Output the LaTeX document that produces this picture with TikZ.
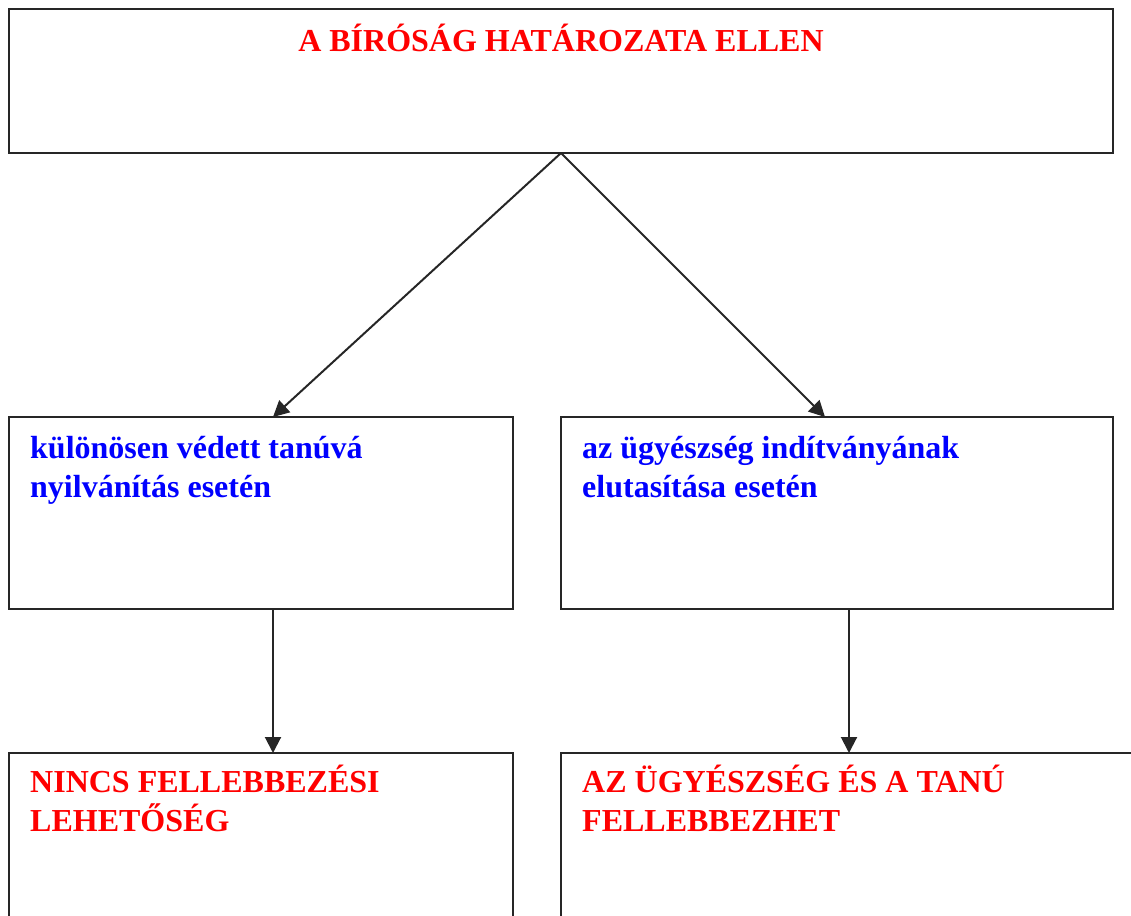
\documentclass[tikz,border=0pt]{standalone}
\usepackage{fontspec}
\setmainfont{Liberation Serif}
\usetikzlibrary{arrows.meta,calc}
\definecolor{edge}{HTML}{262626}
\begin{document}
\begin{tikzpicture}[x=1pt,y=-1pt,
  box/.style={draw=edge,line width=2.2pt,rectangle,anchor=north west,inner sep=0pt,outer sep=0pt},
  label/.style={anchor=base west,inner sep=0pt,align=left,font=\fontsize{32}{39.5}\selectfont\bfseries},
  redtxt/.style={label,text=red},
  bluetxt/.style={label,text=blue},
  arr/.style={draw=edge,line width=2pt,-{Triangle[length=16pt,width=16pt]}}]
\useasboundingbox (0,0) rectangle (1131,915);
\clip (0,0) rectangle (1131,915);
% boxes
\node[box,minimum width=1104pt,minimum height=144pt] (top) at (9,9) {};
\node[box,minimum width=504pt,minimum height=192pt] (midL) at (9,417) {};
\node[box,minimum width=552pt,minimum height=192pt] (midR) at (561,417) {};
\node[box,minimum width=504pt,minimum height=200pt] (botL) at (9,753) {};
\node[box,minimum width=600pt,minimum height=200pt] (botR) at (561,753) {};
% texts (two-line labels are placed by the baseline of their last line)
\node[label,text=red,anchor=base] (title) at (561,52) {A BÍRÓSÁG HATÁROZATA ELLEN};
\node[bluetxt] (tL) at (30,497.5) {különösen védett tanúvá\\nyilvánítás esetén};
\node[bluetxt] (tR) at (582,497.5) {az ügyészség indítványának\\elutasítása esetén};
\node[redtxt] (bL) at (30,831.5) {NINCS FELLEBBEZÉSI\\LEHETŐSÉG};
\node[redtxt] (bR) at (582,831.5) {AZ ÜGYÉSZSÉG ÉS A TANÚ\\FELLEBBEZHET};
% connectors
\coordinate (inL) at ($(midL.north west)+(264,0)$);
\coordinate (inR) at ($(midR.north west)+(264,0)$);
\coordinate (outL) at ($(midL.south west)+(264,0)$);
\coordinate (outR) at ($(midR.south west)+(288,0)$);
\coordinate (inBL) at ($(botL.north west)+(264,0)$);
\coordinate (inBR) at ($(botR.north west)+(288,0)$);
\draw[arr] (top.south) -- (inL);
\draw[arr] (top.south) -- (inR);
\draw[arr] (outL) -- (inBL);
\draw[arr] (outR) -- (inBR);
\end{tikzpicture}
\end{document}
